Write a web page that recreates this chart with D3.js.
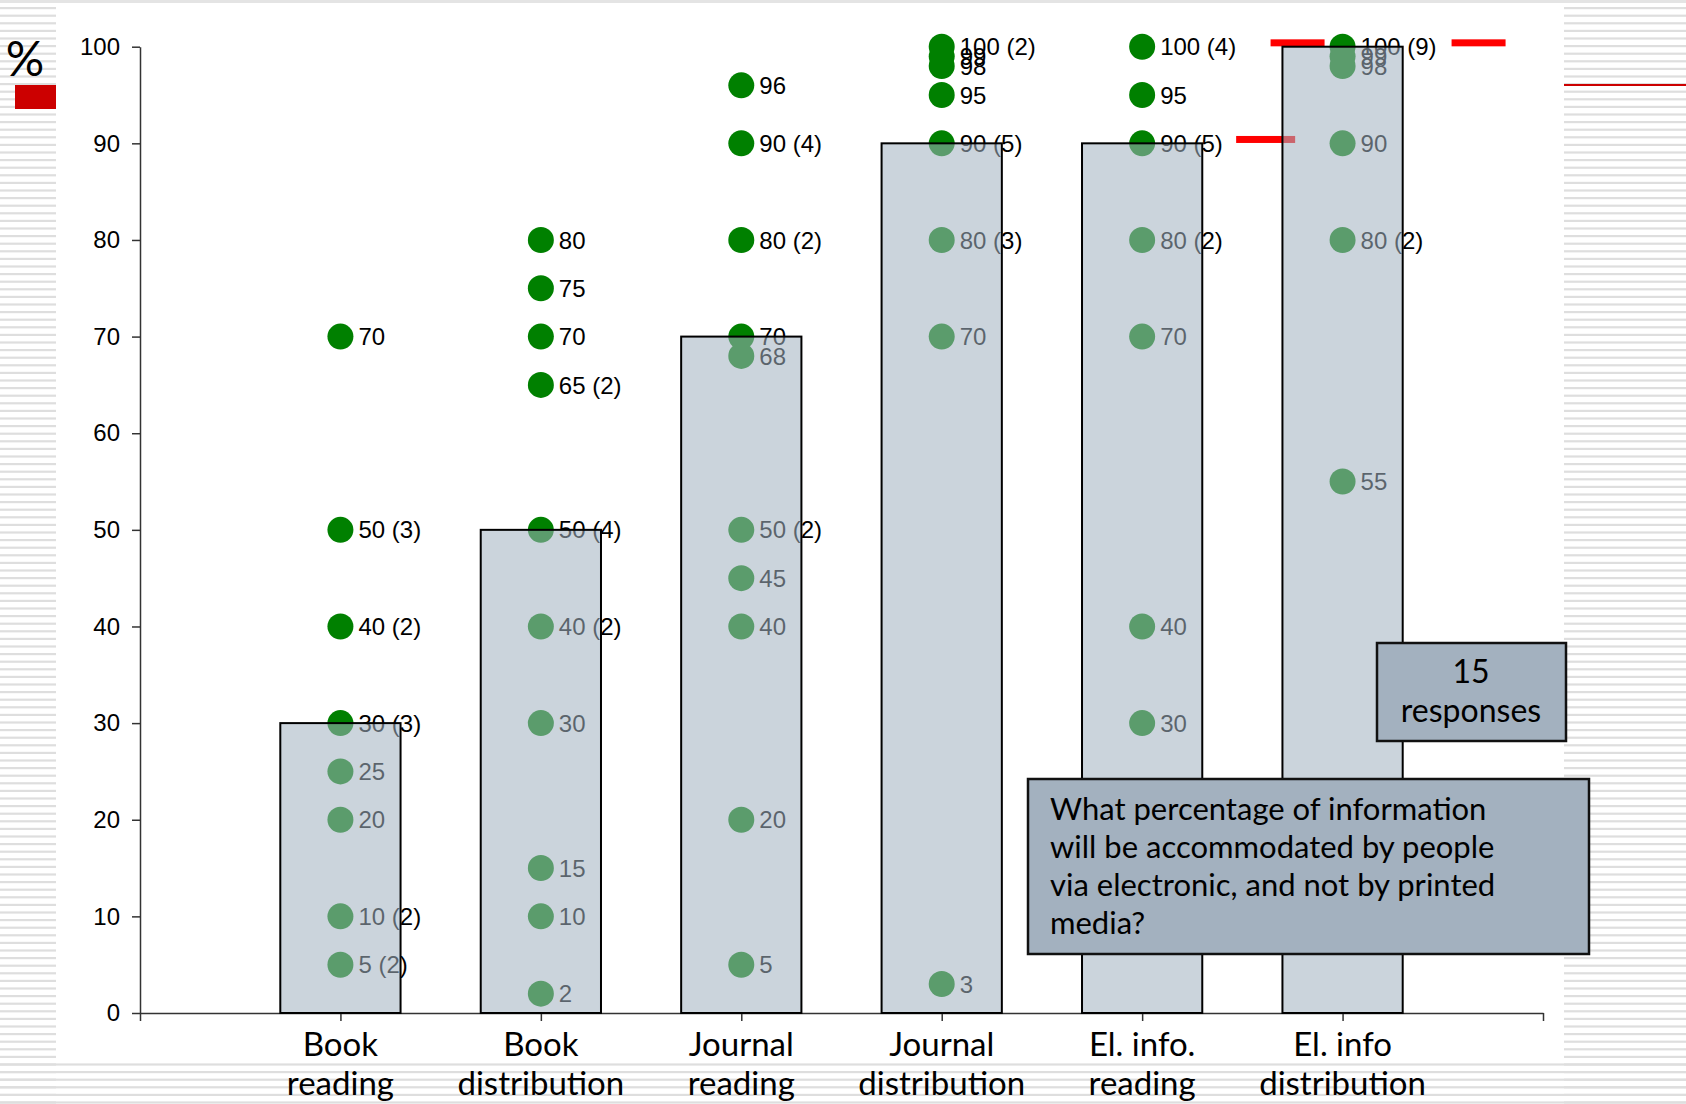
<!DOCTYPE html>
<html>
<head>
  <meta charset="utf-8">
  <title>Electronic vs printed media</title>
  <script src="https://d3js.org/d3.v7.min.js"></script>
  <style>
    body { margin: 0; background: #fff; }
    text { font-family: "Liberation Sans", Arial, sans-serif; }
    .hand { font-family: Lato, "Open Sans", sans-serif; }
    .axis path, .axis line { stroke: #333; stroke-width: 1.5px; }
  </style>
</head>
<body>
<div id="chart"></div>
<script>
  // Categories and the bar height for each one (%).
  const categories = ["Book reading", "Book distribution", "Journal reading",
                      "Journal distribution", "El. info. reading", "El. info distribution"];
  const categoryLines = [["Book", "reading"], ["Book", "distribution"], ["Journal", "reading"],
                         ["Journal", "distribution"], ["El. info.", "reading"], ["El. info", "distribution"]];
  const barValues = [30, 50, 70, 90, 90, 100];

  // Individual answers: [percentage, number of responses].
  const bookReading = [[70, 1], [50, 3], [40, 2], [30, 3], [25, 1], [20, 1], [10, 2], [5, 2]];
  const bookDistribution = [[80, 1], [75, 1], [70, 1], [65, 2], [50, 4], [40, 2], [30, 1], [15, 1], [10, 1], [2, 1]];
  const journalReading = [[96, 1], [90, 4], [80, 2], [70, 1], [68, 1], [50, 2], [45, 1], [40, 1], [20, 1], [5, 1]];
  const journalDistribution = [[100, 2], [99, 1], [98, 1], [95, 1], [90, 5], [80, 3], [70, 1], [3, 1]];
  const elInfoReading = [[100, 4], [95, 1], [90, 5], [80, 2], [70, 1], [40, 1], [30, 1]];
  const elInfoDistribution = [[100, 9], [99, 1], [98, 1], [90, 1], [80, 2], [55, 1]];
  const answers = [bookReading, bookDistribution, journalReading,
                   journalDistribution, elInfoReading, elInfoDistribution];

  const yTicks = [0, 10, 20, 30, 40, 50, 60, 70, 80, 90, 100];

  // Red highlight marks: category, value.
  const redMarks = [["El. info. reading", 90.4], ["El. info distribution", 100.4], ["El. info distribution", 100.4]];
  const redOffsets = [[94, 153], [-72, -18], [109, 163]];

  const questionLines = ["What percentage of information", "will be accommodated by people",
                         "via electronic, and not by printed", "media?"];
  const countLines = ["15", "responses"];

  const W = 1686, H = 1104;
  const plot = {left: 140, right: 1543, top: 46.7, bottom: 1013};

  const svg = d3.select("#chart").append("svg")
    .attr("width", W)
    .attr("height", H);

  svg.append("rect").attr("width", W).attr("height", H).attr("fill", "#fff");

  // Slide decoration: striped side and bottom panels.
  const stripeY = d3.range(7, H, 7.6);
  const deco = svg.append("g");
  deco.append("rect").attr("x", 0).attr("y", 0).attr("width", W).attr("height", 3).attr("fill", "#e4e4e4");
  deco.selectAll(".sl").data(stripeY).enter().append("rect")
    .attr("x", 0).attr("y", d => d).attr("width", 56).attr("height", 2.2).attr("fill", "#dedede");
  deco.selectAll(".sr").data(stripeY).enter().append("rect")
    .attr("x", 1564).attr("y", d => d).attr("width", W - 1564).attr("height", 2.2).attr("fill", "#dedede");
  deco.selectAll(".sb").data(stripeY.filter(d => d > 1058)).enter().append("rect")
    .attr("x", 0).attr("y", d => d).attr("width", W).attr("height", 2.2).attr("fill", "#dedede");
  deco.append("rect").attr("x", 1564).attr("y", 84).attr("width", W - 1564).attr("height", 2).attr("fill", "#cc0000");
  deco.append("rect").attr("x", 15).attr("y", 85).attr("width", 41).attr("height", 24).attr("fill", "#cc0000");
  deco.append("text").attr("class", "hand")
    .attr("x", 25).attr("y", 76).attr("text-anchor", "middle")
    .style("font-size", "48px").text("%");

  // Scales.
  const x = d3.scalePoint()
    .domain(["_start", ...categories, "_end"])
    .range([plot.left, plot.right]);
  const y = d3.scaleLinear().domain([0, 100]).range([plot.bottom, plot.top]);
  const barW = x.step() * 0.6;

  // Axes.
  svg.append("g").attr("class", "axis")
    .attr("transform", "translate(" + plot.left + ",0)")
    .call(d3.axisLeft(y).tickValues(yTicks).tickSize(8).tickSizeOuter(0).tickPadding(12))
    .selectAll("text").style("font-size", "24px").attr("fill", "#000");

  svg.append("g").attr("class", "axis")
    .attr("transform", "translate(0," + plot.bottom + ")")
    .call(d3.axisBottom(x).tickSize(8).tickSizeOuter(0).tickFormat(""));

  // Red marks (drawn below the bars).
  svg.selectAll(".red").data(redMarks).enter().append("rect")
    .attr("x", (d, i) => x(d[0]) + redOffsets[i][0])
    .attr("y", d => y(d[1]) - 3.5)
    .attr("width", (d, i) => redOffsets[i][1] - redOffsets[i][0])
    .attr("height", 7)
    .attr("fill", "#ff0000");

  // Response dots with labels.
  const points = [];
  answers.forEach((arr, i) => arr.forEach(a => points.push({cat: categories[i], v: a[0], n: a[1]})));

  const pts = svg.append("g").selectAll("g").data(points).enter().append("g");
  pts.append("circle")
    .attr("cx", d => x(d.cat))
    .attr("cy", d => y(d.v))
    .attr("r", 13)
    .attr("fill", "#008000");
  pts.append("text")
    .attr("x", d => x(d.cat) + 18)
    .attr("y", d => y(d.v))
    .attr("dy", "0.36em")
    .style("font-size", "24px")
    .attr("fill", "#000")
    .text(d => d.n > 1 ? d.v + " (" + d.n + ")" : d.v);

  // Translucent bars on top of the dots.
  svg.append("g").selectAll("rect").data(categories).enter().append("rect")
    .attr("x", d => x(d) - barW / 2)
    .attr("y", (d, i) => y(barValues[i]))
    .attr("width", barW)
    .attr("height", (d, i) => y(0) - y(barValues[i]))
    .attr("fill", "rgb(162,178,192)")
    .attr("fill-opacity", 0.56)
    .attr("stroke", "#000")
    .attr("stroke-width", 2);

  // Category labels (two lines).
  const catLab = svg.append("g").selectAll("text").data(categories).enter().append("text")
    .attr("class", "hand")
    .attr("text-anchor", "middle")
    .style("font-size", "33px");
  catLab.selectAll("tspan").data((d, i) => categoryLines[i].map(t => ({t: t, c: d}))).enter().append("tspan")
    .attr("x", d => x(d.c))
    .attr("y", (d, j) => 1056 + j * 39)
    .text(d => d.t);

  // Annotation boxes.
  svg.append("rect").attr("x", 1377).attr("y", 643).attr("width", 189).attr("height", 98)
    .attr("fill", "#a3b1bf").attr("stroke", "#111").attr("stroke-width", 2.5);
  svg.append("g").selectAll("text").data(countLines).enter().append("text")
    .attr("class", "hand")
    .attr("x", 1471).attr("y", (d, i) => 683 + i * 39)
    .attr("text-anchor", "middle")
    .style("font-size", "32px")
    .text(d => d);

  svg.append("rect").attr("x", 1028).attr("y", 779).attr("width", 561).attr("height", 175)
    .attr("fill", "#a3b1bf").attr("stroke", "#111").attr("stroke-width", 2.5);
  svg.append("g").selectAll("text").data(questionLines).enter().append("text")
    .attr("class", "hand")
    .attr("x", 1050).attr("y", (d, i) => 820 + i * 38)
    .style("font-size", "31px")
    .text(d => d);
</script>
</body>
</html>
